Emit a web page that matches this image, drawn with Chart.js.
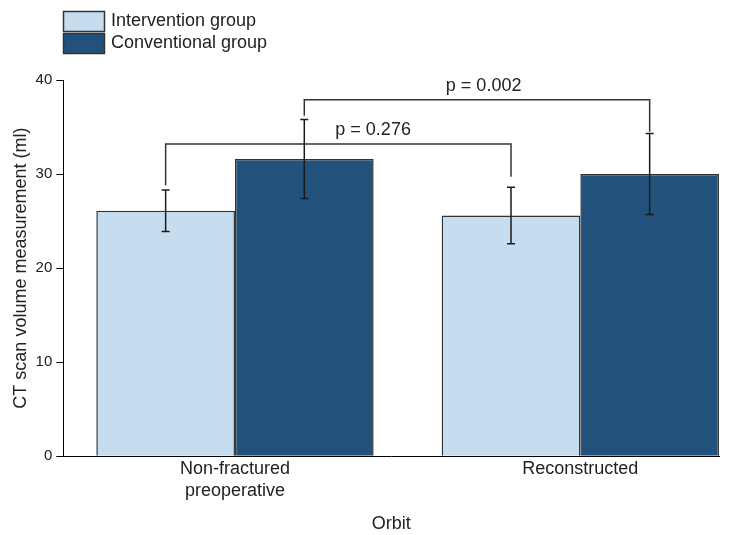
<!DOCTYPE html>
<html lang="en">
<head>
<meta charset="UTF-8">
<title>CT scan volume measurement</title>
<script src="https://cdn.jsdelivr.net/npm/chart.js"></script>
<style>
    html, body { margin: 0; padding: 0; background: #fff; overflow: hidden; }
    .wrap { position: relative; width: 741px; height: 535px; }
</style>
</head>
<body>
<div class="wrap"><canvas id="ctChart"></canvas></div>
<script>
const categories = [['Non-fractured', 'preoperative'], ['Reconstructed']];
const seriesNames = ['Intervention group', 'Conventional group'];
const interventionMean = [26.1, 25.6];
const interventionSD = [2.2, 3.0];
const conventionalMean = [31.6, 30.0];
const conventionalSD = [4.2, 4.3];
const yTicks = [0, 10, 20, 30, 40];
// significance brackets: which series, bracket height and leg ends (ml)
const comparisons = [
    { text: 'p = 0.276', series: 0, y: 33.2, leftEnd: 28.8, rightEnd: 29.7 },
    { text: 'p = 0.002', series: 1, y: 37.9, leftEnd: 36.2, rightEnd: 34.5 }
];

const FONT = "'Liberation Sans', Arial, sans-serif";
const colors = ['#c6dcef', '#22527c'];
const sds = [interventionSD, conventionalSD];

const toPoints = arr => arr.map((v, i) => ({ x: i, y: v }));

// draws error bars, brackets and the legend
const extras = {
    id: 'extras',
    afterDatasetsDraw(chart) {
        const ctx = chart.ctx;
        const y = chart.scales.y;
        ctx.save();
        // error bars
        ctx.strokeStyle = '#1a1a1a';
        ctx.lineWidth = 1.5;
        chart.data.datasets.forEach((ds, d) => {
            const meta = chart.getDatasetMeta(d);
            meta.data.forEach((bar, i) => {
                const m = ds.data[i].y;
                const top = y.getPixelForValue(m + sds[d][i]);
                const bot = y.getPixelForValue(m - sds[d][i]);
                ctx.beginPath();
                ctx.moveTo(bar.x, top); ctx.lineTo(bar.x, bot);
                ctx.moveTo(bar.x - 4, top); ctx.lineTo(bar.x + 4, top);
                ctx.moveTo(bar.x - 4, bot); ctx.lineTo(bar.x + 4, bot);
                ctx.stroke();
            });
        });
        // brackets
        const labelX = [0.40, 0.72];
        ctx.strokeStyle = '#333';
        ctx.fillStyle = '#222';
        ctx.font = '18px ' + FONT;
        ctx.textAlign = 'center';
        ctx.textBaseline = 'middle';
        comparisons.forEach((c, k) => {
            const bars = chart.getDatasetMeta(c.series).data;
            const x1 = bars[0].x, x2 = bars[1].x;
            const yy = y.getPixelForValue(c.y);
            ctx.beginPath();
            ctx.moveTo(x1, y.getPixelForValue(c.leftEnd));
            ctx.lineTo(x1, yy);
            ctx.lineTo(x2, yy);
            ctx.lineTo(x2, y.getPixelForValue(c.rightEnd));
            ctx.stroke();
            ctx.fillText(c.text, chart.scales.x.getPixelForValue(labelX[k]), yy - 14);
        });
        // legend
        ctx.textAlign = 'left';
        seriesNames.forEach((name, k) => {
            const top = 11.5 + k * 22;
            ctx.fillStyle = colors[k];
            ctx.fillRect(63.5, top, 41, 20);
            ctx.strokeStyle = '#333';
            ctx.strokeRect(63.5, top, 41, 20);
            ctx.fillStyle = '#222';
            ctx.fillText(name, 111, top + 10);
        });
        ctx.restore();
    }
};

new Chart(document.getElementById('ctChart'), {
    type: 'bar',
    data: {
        datasets: [
            {
                label: seriesNames[0],
                data: toPoints(interventionMean),
                backgroundColor: colors[0],
                borderColor: '#333',
                borderWidth: 1.5
            },
            {
                label: seriesNames[1],
                data: toPoints(conventionalMean),
                backgroundColor: colors[1],
                borderColor: '#333',
                borderWidth: 1.5
            }
        ]
    },
    options: {
        responsive: true,
        maintainAspectRatio: false,
        animation: false,
        categoryPercentage: 0.803,
        barPercentage: 1,
        layout: { padding: { top: 80, left: 6, right: 22, bottom: 0 } },
        plugins: {
            legend: { display: false },
            tooltip: { enabled: false }
        },
        scales: {
            x: {
                type: 'linear',
                offset: false,
                min: -0.4971,
                max: 1.4015,
                afterBuildTicks: scale => { scale.ticks = categories.map((_, i) => ({ value: i })); },
                grid: { display: false, drawTicks: false, offset: false },
                border: { display: true, color: '#000', width: 1 },
                ticks: {
                    autoSkip: false,
                    maxRotation: 0,
                    padding: 2,
                    color: '#222',
                    font: { family: FONT, size: 18 },
                    callback: v => categories[v]
                },
                title: {
                    display: true,
                    text: 'Orbit',
                    color: '#222',
                    font: { family: FONT, size: 18 },
                    padding: { top: 10, bottom: 0 }
                }
            },
            y: {
                min: 0,
                max: 40,
                afterBuildTicks: scale => { scale.ticks = yTicks.map(v => ({ value: v })); },
                grid: { drawOnChartArea: false, drawTicks: true, tickLength: 7, color: '#000' },
                border: { display: true, color: '#000', width: 1 },
                ticks: {
                    padding: 4,
                    color: '#222',
                    font: { family: FONT, size: 15 }
                },
                title: {
                    display: true,
                    text: 'CT scan volume measurement (ml)',
                    color: '#222',
                    font: { family: FONT, size: 18 },
                    padding: { top: 4, bottom: 0 }
                }
            }
        }
    },
    plugins: [extras]
});
</script>
</body>
</html>
